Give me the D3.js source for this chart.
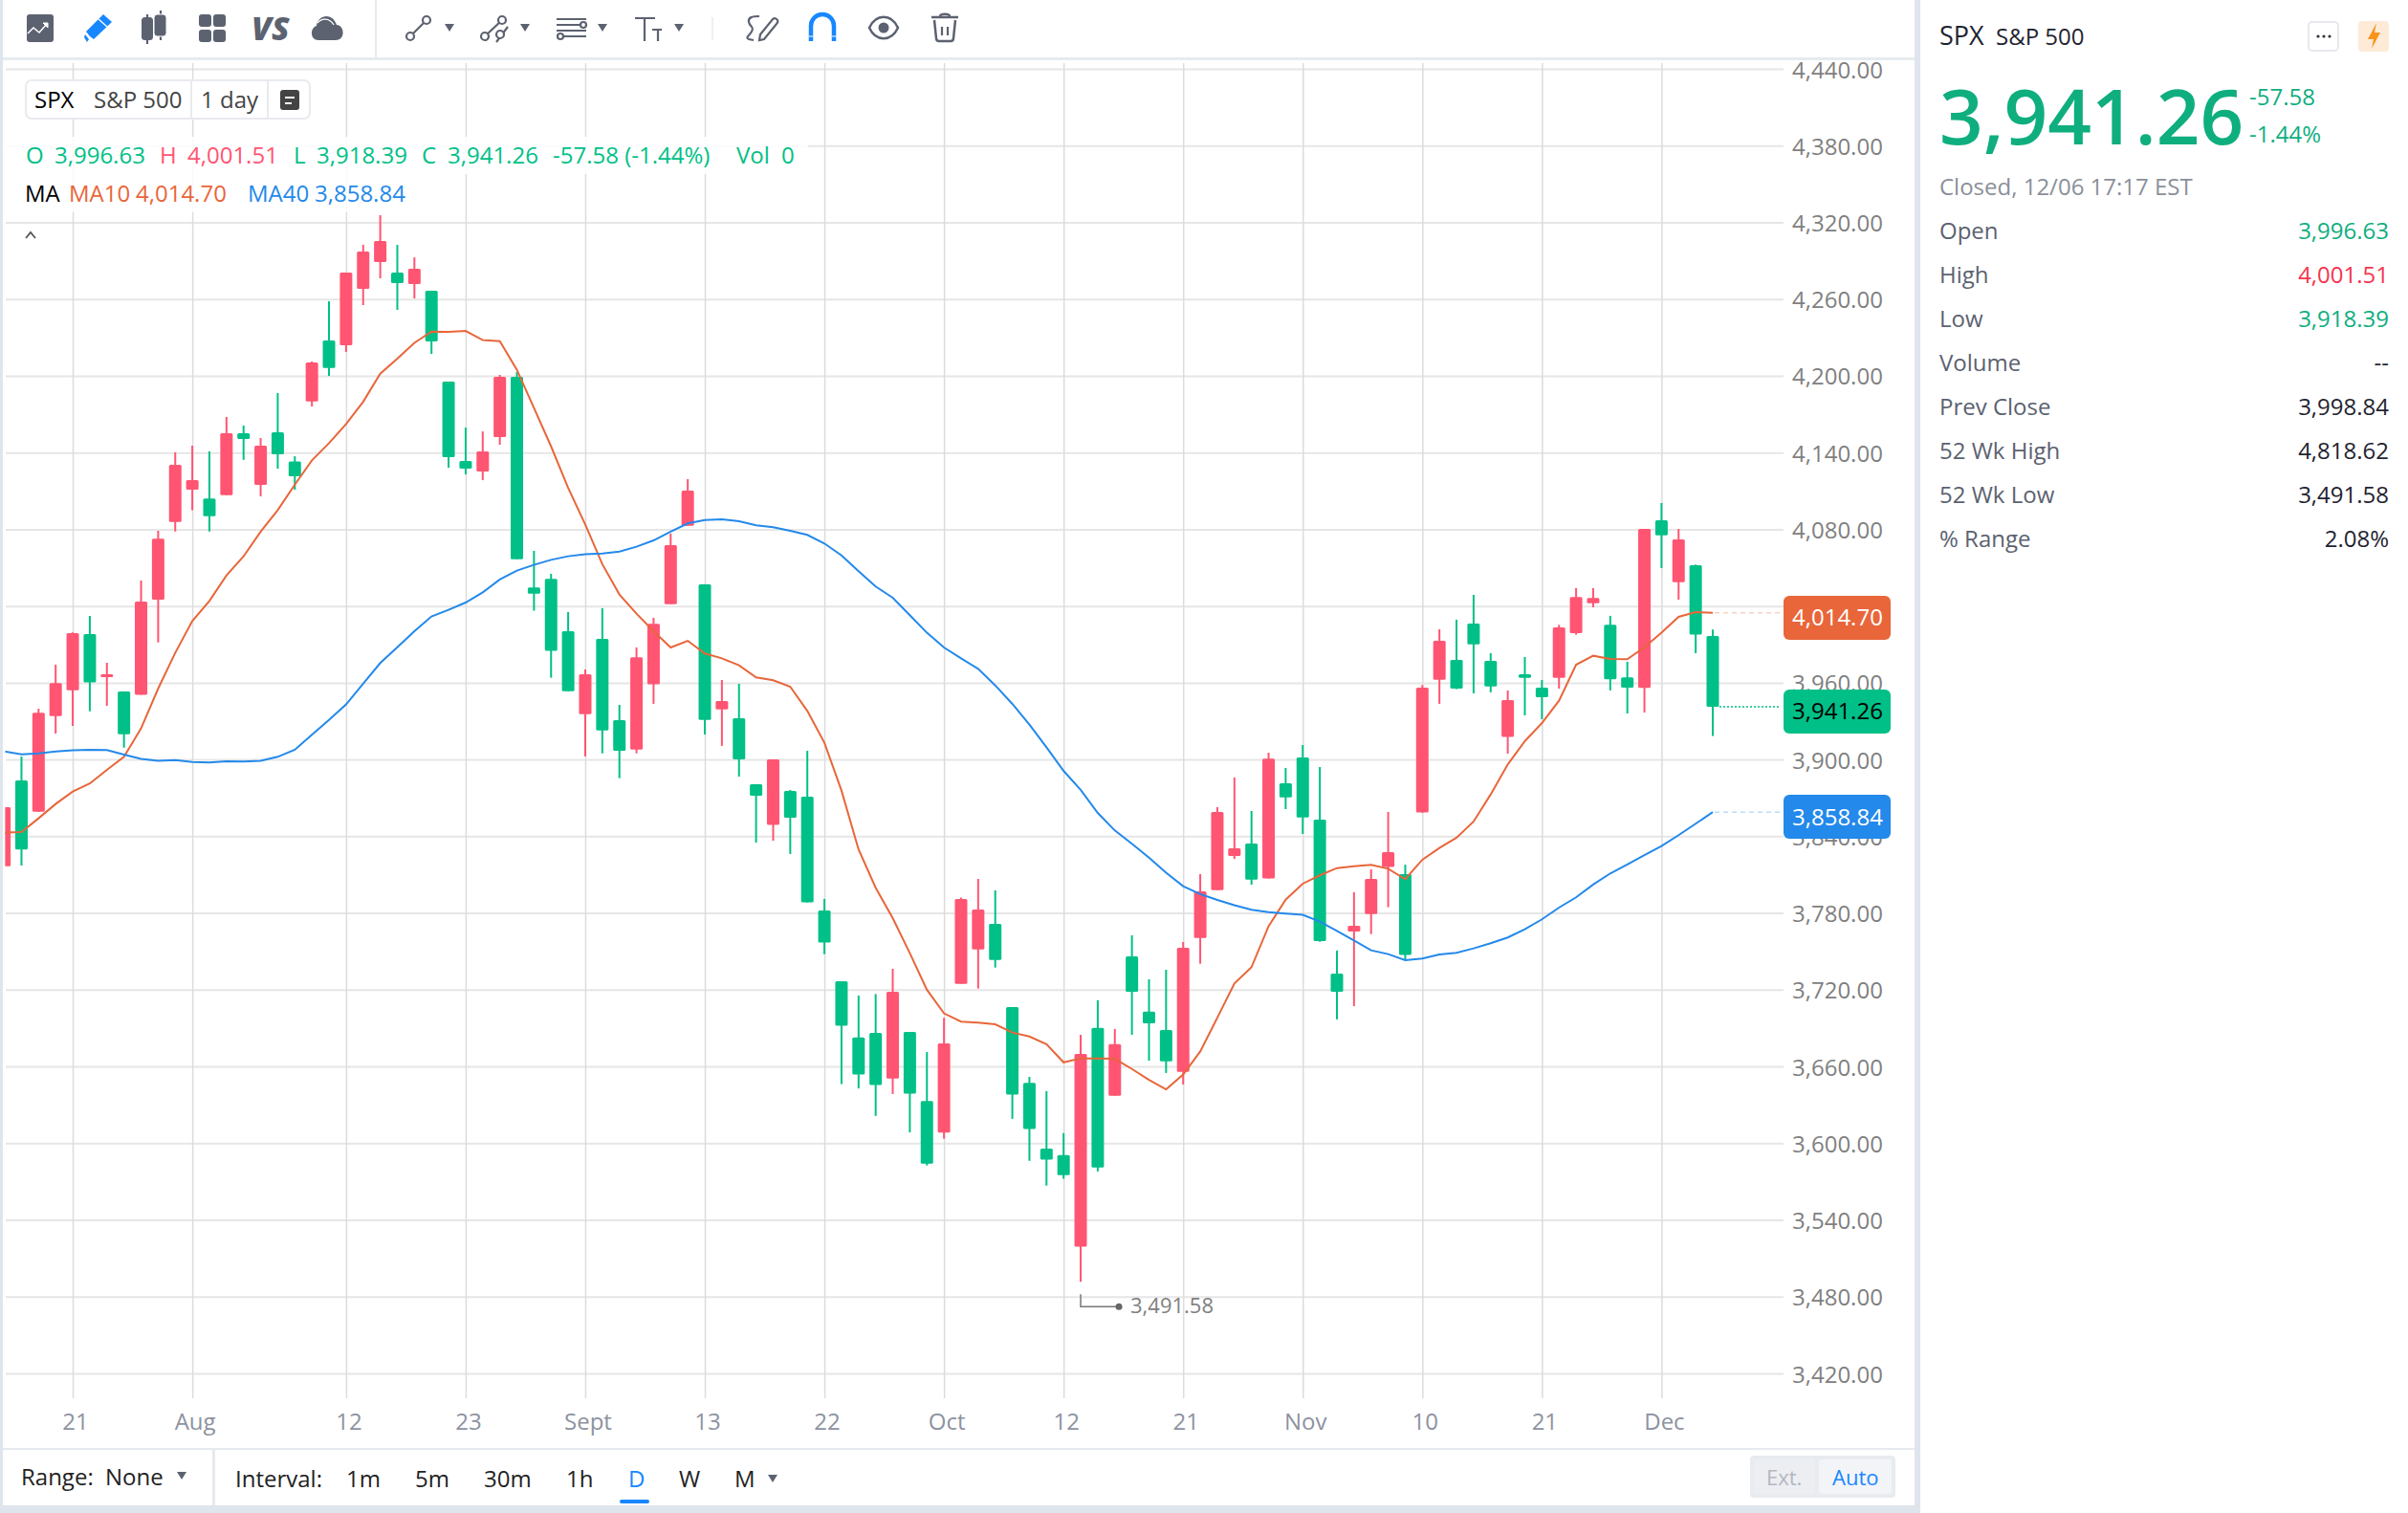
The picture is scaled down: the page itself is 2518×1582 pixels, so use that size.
<!DOCTYPE html>
<html>
<head>
<meta charset="utf-8">
<title>SPX</title>
<script src="https://cdn.jsdelivr.net/npm/d3@7"></script>
<style>
body { margin: 0; background: #fff; overflow: hidden; }
svg { display: block; }
text { font-family: "Open Sans", sans-serif; font-size: 24px; }
</style>
</head>
<body>
<svg></svg>
<script>
const openPrices = [
    3816.6,3883.7,3859.2,3934,3954.2,3998.1,3964.4,3953.2,3950.5,4025,
    4085.8,4110.9,4104,4106.7,4155.1,4114.7,4155.8,4133.1,4180,4227.6,
    4223.9,4268,4288.9,4280.7,4271.7,4266.5,4195.4,4133.4,4125.1,4152.1,
    4199.2,4034.5,4041.2,4000.3,3935.5,3994.3,3930.8,3907.8,3958.7,4021.5,
    4082.8,4037,3939.2,3932.3,3880.7,3848.8,3875.4,3870.9,3782,3726.6,
    3682.6,3686.2,3650.5,3687,3633,3608.2,3724.6,3751.5,3771.5,3706.4,
    3647.2,3595.7,3590.6,3519,3690.1,3637.1,3746.1,3702.8,3688.5,3655.7,
    3760.5,3797.9,3824.6,3834.3,3806.9,3881.4,3901.6,3853,3732.6,3765.5,
    3779.2,3815.9,3810.4,3858.5,3962.4,3977.9,4006.3,3977.1,3917.6,3966.7,
    3956.2,3963.9,3998.8,4022.2,4005.3,3964.2,3956,4087.1,4038.7,4051.9,3996.63
];
const highPrices = [
    3862.7,3902.4,3939.7,3974.1,3999.3,4012.3,3975.6,3953.2,4039.9,4078.8,
    4140.1,4145.3,4140.8,4167.8,4161,4151.3,4186.5,4137.1,4211.2,4258.3,
    4280.7,4302.4,4325.5,4302.4,4292.6,4266.5,4195.4,4159.5,4156.5,4200.7,
    4202.9,4063.1,4045.2,4015.3,3970.4,4018.3,3942.7,3987.6,4010.8,4076.6,
    4119.2,4037,3962.2,3959.2,3880.7,3900.1,3876.2,3906.8,3791,3726.6,
    3715.4,3716.6,3736.3,3687,3671.2,3698,3792,3806.6,3797.7,3706.4,
    3651.8,3640.7,3607.9,3684.7,3711.8,3689.3,3762.5,3728.1,3735.6,3757.3,
    3810.4,3862.7,3885.9,3859.7,3905.3,3893.4,3911.3,3894.1,3750.6,3796.2,
    3814.1,3859,3817.8,3958.2,4001.8,4009.3,4028.7,3983.1,3954,3980.1,
    3962.2,4005.3,4034,4034,4012.3,3976.4,4080.3,4100.5,4080.3,4052.4,4001.51
];
const lowPrices = [
    3816.6,3817.1,3859,3920.3,3926.3,3937.7,3942,3909.3,3950.5,3991.6,
    4078.3,4094.8,4078.3,4106.7,4134.4,4105.7,4127.4,4110.9,4176,4199.9,
    4218.6,4255.3,4276.2,4251.5,4260.5,4217.1,4128.1,4122.9,4118.4,4146.1,
    4056.6,4016.3,3963.9,3953.4,3902.4,3904.8,3885.4,3904.8,3943.5,4021.5,
    4082.8,3919.5,3910.6,3886.6,3835,3836.5,3826.1,3788.2,3747.8,3646.2,
    3642.8,3621.3,3638.4,3608.4,3582.6,3603.5,3724.6,3720.9,3737.3,3619,
    3586.2,3566.8,3572.2,3491.58,3577.9,3637.1,3684.7,3664.5,3654.9,3645.9,
    3740.3,3797.9,3822.3,3802.1,3806.9,3861.2,3841.8,3757.5,3696.8,3707.1,
    3763.5,3784.5,3743.6,3858.5,3943.5,3955,3951.7,3952.5,3904.6,3934.5,
    3931.5,3955.4,3997.6,4019,3954,3936,3936.7,4049.7,4025,3983.1,3918.39
];
const closePrices = [
    3862.7,3829.6,3936.5,3959.7,3998.8,3960.2,3966.7,3919.8,4023.5,4072.6,
    4130.4,4118.4,4090.3,4155.1,4150.6,4145.3,4138.6,4121.4,4210.4,4206.2,
    4280.7,4297.1,4305.4,4272.5,4283.7,4226.8,4136.4,4127.4,4140.8,4199.2,
    4056.6,4029.7,3984.9,3953.4,3966.7,3922.8,3906.8,3979.9,4006,4067.6,
    4110.2,3931,3945.7,3900.1,3871.7,3900.1,3854.5,3788.2,3756.8,3691.9,
    3653.6,3645.4,3718.4,3638.7,3583.9,3677.9,3791,3782.7,3743.3,3637.9,
    3611,3587.2,3575,3669.7,3581,3677.4,3718.4,3693.7,3664,3752.8,
    3796.9,3859,3830.6,3806.1,3900.6,3870.4,3854.7,3758,3718.4,3770,
    3806.6,3827.6,3747.1,3956.2,3992.8,3955.4,3990.1,3957.2,3946.5,3963.9,
    3948.7,4003.3,4027,4026.2,3962.7,3956.2,4080.3,4075.3,4072.1,3997.6,3941.26
];
const ma10 = [
    3842.8,3843.3,3854,3865.2,3874.9,3881.2,3891.9,3902.1,3924.3,3955.4,
    3983.4,4008.3,4024,4043.9,4058.9,4078.1,4095,4114.9,4133.9,4147.3,
    4162.3,4179.7,4201.7,4213.4,4225.8,4234.6,4234.4,4235.1,4227.9,4227.1,
    4204.7,4174.8,4144.8,4112.4,4083.8,4052.7,4029,4014,4000.3,3987.6,
    3992.8,3982.9,3979.1,3973.6,3964.2,3961.9,3956.9,3938,3913.1,3875.7,
    3829.6,3799.7,3776,3748.6,3719.9,3701.5,3695,3694.2,3692.9,3686.5,
    3683.4,3677.4,3663.2,3666.3,3666.3,3666,3658,3649.5,3642,3653.6,
    3671.7,3698.1,3724.9,3737.6,3769.7,3790.4,3802.9,3809.4,3815.1,3816.6,
    3817.6,3814.6,3806.4,3821.6,3830.8,3838.8,3851.5,3872.7,3896.1,3914.3,
    3928.5,3946,3974.1,3981.1,3978.6,3978.4,3987.8,3999.1,4011.5,4015.3,4014.7
];
const ma40 = [
    3906.3,3904.1,3904.8,3906.3,3907.1,3907.6,3907.3,3903.8,3900.4,3898.9,
    3899.6,3898.1,3897.6,3898.6,3898.4,3898.9,3902.1,3907.6,3919.3,3931,
    3943,3959.2,3975.4,3987.8,4000.3,4011.8,4017,4022.7,4030.7,4040.7,
    4047.7,4052.2,4056.1,4058.9,4060.4,4061.1,4062.6,4066.4,4071.3,4078.1,
    4084.6,4087.3,4087.8,4086.3,4083.1,4081.6,4078.8,4075.6,4068.9,4059.6,
    4047.2,4035.2,4026.5,4012.8,3999.1,3987.6,3979.1,3970.9,3957.9,3943.5,
    3927.3,3909.6,3891.1,3876.2,3858.2,3844.5,3834.1,3823.3,3811.4,3800.9,
    3794.7,3790.2,3786,3782.5,3780.7,3779.5,3778.5,3773.2,3766,3758.5,
    3750.8,3747.8,3743.1,3744.3,3747.6,3748.8,3752.3,3756.3,3760.8,3767.3,
    3775,3784.2,3792.2,3802.2,3810.9,3817.9,3825.3,3832.3,3840.8,3849.8,3858.84
];

const yTicks = [4440,4380,4320,4260,4200,4140,4080,4020,3960,3900,3840,3780,3720,3660,3600,3540,3480,3420];
const xTickIndex = [4,11,20,27,34,41,48,55,62,69,76,83,90,97];
const xTickLabels = ["21","Aug","12","23","Sept","13","22","Oct","12","21","Nov","10","21","Dec"];

const statLabels = ["Open","High","Low","Volume","Prev Close","52 Wk High","52 Wk Low","% Range"];
const statValues = ["3,996.63","4,001.51","3,918.39","--","3,998.84","4,818.62","3,491.58","2.08%"];
const statColors = ["#0fae7f","#f5354f","#0fae7f","#1f2430","#1f2430","#1f2430","#1f2430","#1f2430"];

const green = "#00c087";
const red = "#ff5572";
const orange = "#e8663a";
const blue = "#2389ea";
const iconGrey = "#5c6270";
const iconBlue = "#1787ff";

const width = 2518;
const height = 1582;

const svg = d3.select("svg").attr("width", width).attr("height", height);

const xScale = d3.scaleLinear().domain([0, 100]).range([4.6, 1791]);
const yScale = d3.scaleLinear().domain([3420, 4440]).range([1436, 72]);
const indices = d3.range(openPrices.length);

let addText = (parent, x, y, str, color, size, anchor, weight) => {
    return parent.append("text")
        .attr("x", x).attr("y", y)
        .attr("fill", color)
        .style("font-size", (size || 24) + "px")
        .style("font-weight", weight || 400)
        .attr("text-anchor", anchor || "start")
        .text(str);
}

let drawGrid = () => {
    svg.append("clipPath").attr("id", "plot-clip")
       .append("rect").attr("x", 5.5).attr("y", 62).attr("width", 1860).attr("height", 1400);

    let hGrid = svg.append("g")
       .attr("transform", "translate(1865,0)")
       .call(d3.axisLeft(yScale).tickValues(yTicks).tickSize(1859).tickFormat(""));
    hGrid.select(".domain").remove();
    hGrid.selectAll("line").attr("stroke", "#e6e6e6").attr("stroke-width", 2);

    let vGrid = svg.append("g")
       .attr("transform", "translate(0,1462)")
       .call(d3.axisTop(xScale).tickValues(xTickIndex).tickSize(1396).tickFormat(""));
    vGrid.select(".domain").remove();
    vGrid.selectAll("line").attr("stroke", "#dcdcdc").attr("stroke-width", 1.5);
}

let drawAxes = () => {
    let yAxis = svg.append("g")
       .attr("id", "y-axis")
       .attr("transform", "translate(1874,0)")
       .call(d3.axisRight(yScale).tickValues(yTicks).tickSize(0).tickPadding(0).tickFormat(d3.format(",.2f")));
    yAxis.select(".domain").remove();
    yAxis.selectAll("text")
       .attr("fill", "#808080")
       .attr("dy", 9)
       .style("font-size", "24px");

    let xAxis = svg.append("g")
       .attr("id", "x-axis")
       .attr("transform", "translate(0,1471)")
       .call(d3.axisBottom(xScale).tickValues(xTickIndex).tickSize(0).tickPadding(0)
           .tickFormat((d, i) => xTickLabels[i]));
    xAxis.select(".domain").remove();
    xAxis.selectAll("text")
       .attr("fill", "#8d92a0")
       .attr("x", 2.5)
       .attr("y", 23.5)
       .attr("dy", 0)
       .style("font-size", "24px");
}

let drawCandles = () => {
    let g = svg.append("g").attr("clip-path", "url(#plot-clip)");
    let color = (i) => closePrices[i] >= openPrices[i] ? red : green;

    g.selectAll(".wick")
     .data(indices)
     .enter()
     .append("line")
     .attr("class", "wick")
     .attr("x1", (i) => xScale(i))
     .attr("x2", (i) => xScale(i))
     .attr("y1", (i) => yScale(highPrices[i]))
     .attr("y2", (i) => yScale(lowPrices[i]))
     .attr("stroke", color)
     .attr("stroke-width", 2);

    g.selectAll(".body")
     .data(indices)
     .enter()
     .append("rect")
     .attr("class", "body")
     .attr("x", (i) => xScale(i) - 6.5)
     .attr("width", 13)
     .attr("y", (i) => yScale(Math.max(openPrices[i], closePrices[i])))
     .attr("height", (i) => Math.max(3, Math.abs(yScale(openPrices[i]) - yScale(closePrices[i]))))
     .attr("rx", 1.5)
     .attr("fill", color);
}

let drawMovingAverages = () => {
    let g = svg.append("g").attr("clip-path", "url(#plot-clip)");
    let lineFor = (series) => d3.line().x((i) => xScale(i)).y((i) => yScale(series[i]))(indices);

    g.append("path").attr("d", lineFor(ma10))
     .attr("fill", "none").attr("stroke", orange).attr("stroke-width", 2);
    g.append("path").attr("d", lineFor(ma40))
     .attr("fill", "none").attr("stroke", blue).attr("stroke-width", 2);
}

let drawPriceTags = () => {
    let tags = [
        { value: 4014.70, color: orange, text: "#fff", dash: "5,4", op: 0.3, top: 623, base: 654 },
        { value: 3941.26, color: green, text: "#000", dash: "2,2", op: 1, top: 721, base: 752 },
        { value: 3858.84, color: blue, text: "#fff", dash: "5,4", op: 0.3, top: 831, base: 863 }
    ];
    tags.forEach((t) => {
        svg.append("line")
           .attr("x1", xScale(100) + (t.value == 3941.26 ? 7 : 2)).attr("x2", 1862)
           .attr("y1", yScale(t.value)).attr("y2", yScale(t.value))
           .attr("stroke", t.color).attr("stroke-opacity", t.op)
           .attr("stroke-dasharray", t.dash).attr("stroke-width", 1.5);
        svg.append("rect")
           .attr("x", 1865).attr("y", t.top).attr("width", 112).attr("height", 46)
           .attr("rx", 6).attr("fill", t.color);
        addText(svg, 1874, t.base, d3.format(",.2f")(t.value), t.text);
    });
}

let drawLowMark = () => {
    let lowIndex = lowPrices.indexOf(d3.min(lowPrices));
    let lx = xScale(lowIndex);
    let ly = yScale(lowPrices[lowIndex]);
    svg.append("path")
       .attr("d", `M${lx},${ly + 13}V${ly + 26}H${lx + 40}`)
       .attr("fill", "none").attr("stroke", "#777").attr("stroke-width", 1.5);
    svg.append("circle").attr("cx", lx + 40).attr("cy", ly + 26).attr("r", 3.5).attr("fill", "#666");
    addText(svg, lx + 52, ly + 32.5, d3.format(",.2f")(lowPrices[lowIndex]), "#808080", 22);
}

let drawLegend = () => {
    // faded strips behind the two legend rows
    svg.append("rect").attr("x", 5).attr("y", 143).attr("width", 840).attr("height", 39).attr("fill", "#fff").attr("opacity", 0.85);
    svg.append("rect").attr("x", 5).attr("y", 182).attr("width", 430).attr("height", 40).attr("fill", "#fff").attr("opacity", 0.85);

    svg.append("rect").attr("x", 27).attr("y", 84).attr("width", 297).attr("height", 40)
       .attr("rx", 6).attr("fill", "#fff").attr("stroke", "#e8eaee").attr("stroke-width", 2);
    svg.append("line").attr("x1", 200).attr("x2", 200).attr("y1", 84).attr("y2", 124).attr("stroke", "#e8eaee").attr("stroke-width", 2);
    svg.append("line").attr("x1", 280).attr("x2", 280).attr("y1", 84).attr("y2", 124).attr("stroke", "#e8eaee").attr("stroke-width", 2);
    addText(svg, 36, 113, "SPX", "#000");
    addText(svg, 98, 113, "S&P 500", "#444");
    addText(svg, 210, 113, "1 day", "#444");
    svg.append("rect").attr("x", 293).attr("y", 94).attr("width", 20).attr("height", 21).attr("rx", 3).attr("fill", "#444");
    svg.append("path").attr("d", "M298,102H308M298,108H305").attr("stroke", "#fff").attr("stroke-width", 2);

    addText(svg, 27, 170.5, "O", green);
    addText(svg, 57, 170.5, "3,996.63", green);
    addText(svg, 167, 170.5, "H", red);
    addText(svg, 196, 170.5, "4,001.51", red);
    addText(svg, 307, 170.5, "L", green);
    addText(svg, 331, 170.5, "3,918.39", green);
    addText(svg, 441, 170.5, "C", green);
    addText(svg, 468, 170.5, "3,941.26", green);
    addText(svg, 578, 170.5, "-57.58 (-1.44%)", green);
    addText(svg, 770, 170.5, "Vol", green);
    addText(svg, 817, 170.5, "0", green);

    addText(svg, 26, 210.5, "MA", "#000");
    addText(svg, 72, 210.5, "MA10", orange);
    addText(svg, 142, 210.5, "4,014.70", orange);
    addText(svg, 259, 210.5, "MA40", blue);
    addText(svg, 329, 210.5, "3,858.84", blue);

    svg.append("path").attr("d", "M27,249L32,243L37,249").attr("fill", "none").attr("stroke", "#555").attr("stroke-width", 1.8);
}

let caret = (x, y) => {
    svg.append("path").attr("d", `M${x - 5},${y - 4}H${x + 5}L${x},${y + 4}Z`).attr("fill", iconGrey);
}

let drawToolbar = () => {
    let icon = (x, draw) => draw(svg.append("g").attr("transform", `translate(${x},29)`));
    let stroke = (g, d, color, w) => g.append("path").attr("d", d).attr("fill", "none").attr("stroke", color || iconGrey).attr("stroke-width", w || 2.5);
    let ring = (g, x, y, r) => g.append("circle").attr("cx", x).attr("cy", y).attr("r", r).attr("fill", "#fff").attr("stroke", iconGrey).attr("stroke-width", 2.2);

    icon(42, (g) => {
        g.append("rect").attr("x", -14).attr("y", -14).attr("width", 28).attr("height", 29).attr("rx", 3).attr("fill", iconGrey);
        stroke(g, "M-13,6L-7,0L-1,5L7,-4", "#fff", 1.5);
        g.append("path").attr("d", "M3,-5H8V0Z").attr("fill", "#fff").attr("stroke", "#fff").attr("stroke-width", 1);
    });
    icon(102, (g) => {
        g.append("path").attr("d", "M-12,4L6,-14L15,-6L-4,12L-8,9Z").attr("fill", iconBlue);
        g.append("path").attr("d", "M-14,10L-13,7L-9,12L-11,15Z").attr("fill", iconBlue);
        stroke(g, "M1,-9L10,-1", "#fff", 1.4);
    });
    icon(161, (g) => {
        stroke(g, "M-7,-14V17M7,-18V13", iconGrey, 2.2);
        g.append("rect").attr("x", -13).attr("y", -11).attr("width", 12).attr("height", 24).attr("rx", 3.5).attr("fill", iconGrey);
        g.append("rect").attr("x", 0).attr("y", -14).attr("width", 13).attr("height", 23).attr("rx", 3.5).attr("fill", iconGrey).attr("stroke", "#fff").attr("stroke-width", 1);
    });
    icon(222, (g) => {
        [[-14, -14], [1, -14], [-14, 2], [1, 2]].forEach((p) => {
            g.append("rect").attr("x", p[0]).attr("y", p[1]).attr("width", 13).attr("height", 13).attr("rx", 3).attr("fill", iconGrey);
        });
    });
    addText(svg, 263, 42, "VS", iconGrey, 34, "start", 800).style("font-style", "italic");
    icon(342, (g) => {
        g.append("path").attr("d", "M-9,13C-18,13 -18,0 -11,-2C-10,-13 5,-17 10,-3C18,-3 20,13 9,13Z").attr("fill", iconGrey);
        stroke(g, "M-10,-5C-5,-11 3,-10 7,-3", "#fff", 1.3);
    });

    svg.append("line").attr("x1", 393).attr("x2", 393).attr("y1", 0).attr("y2", 60).attr("stroke", "#dfe3e8").attr("stroke-width", 1.5);

    icon(438, (g) => {
        stroke(g, "M-9,9L8,-8", iconGrey, 2.2);
        ring(g, -9, 9, 4);
        ring(g, 8, -8, 4);
    });
    caret(470, 29);
    icon(517, (g) => {
        stroke(g, "M-10,9L8,-8M2,15L14,-1", iconGrey, 2.2);
        ring(g, 8, -8, 4);
        ring(g, 6, 7, 4);
        ring(g, -10, 9, 4);
    });
    caret(549, 29);
    icon(598, (g) => {
        stroke(g, "M-16,-9H15M-16,-3H15M-16,3H15M-16,9H15", iconGrey, 2.2);
        ring(g, 12, -3, 3);
        ring(g, -12, 9, 3);
    });
    caret(630, 29);
    icon(676, (g) => {
        stroke(g, "M-12,-10H9M-2,-10V14M6,2H16M12,2V14", iconGrey, 2.2);
    });
    caret(710, 29);
    svg.append("line").attr("x1", 745).attr("x2", 745).attr("y1", 18).attr("y2", 42).attr("stroke", "#e8eaee").attr("stroke-width", 1.5);
    icon(797, (g) => {
        stroke(g, "M-3,13L-2,7L11,-9Q14,-11 16,-8Q17,-6 15,-4L2,12Z", iconGrey, 2.2);
        stroke(g, "M-3,-12C-10,-12 -15,-11 -14,-6C-13,-1 -8,-1 -11,4C-14,9 -18,10 -14,12L-9,13", iconGrey, 2.2);
    });
    icon(860, (g) => {
        stroke(g, "M-12,14V-2A12,12 0 0 1 12,-2V14", iconBlue, 4.5);
        stroke(g, "M-14.5,9H-9.5M9.5,9H14.5", "#fff", 1.2);
    });
    icon(924, (g) => {
        g.append("path").attr("d", "M-15,0C-8,-15 8,-15 15,0C8,15 -8,15 -15,0Z").attr("fill", "#fff").attr("stroke", iconGrey).attr("stroke-width", 2.5);
        g.append("circle").attr("r", 5.5).attr("fill", iconGrey);
    });
    icon(988, (g) => {
        stroke(g, "M-14,-11H14M-5,-12C-5,-15 5,-15 5,-12M-11,-8L-9,11Q-9,14 -6,14H6Q9,14 9,11L11,-8", iconGrey, 2.5);
        stroke(g, "M-3,-1V8M3,-1V8", iconGrey, 2.2);
    });
}

let drawBottomBar = () => {
    addText(svg, 22, 1553, "Range:", "#222");
    addText(svg, 110, 1553, "None", "#222");
    caret(190, 1543);
    addText(svg, 246, 1555, "Interval:", "#222");
    addText(svg, 362, 1555, "1m", "#222");
    addText(svg, 434, 1555, "5m", "#222");
    addText(svg, 506, 1555, "30m", "#222");
    addText(svg, 592, 1555, "1h", "#222");
    addText(svg, 657, 1555, "D", iconBlue);
    addText(svg, 710, 1555, "W", "#222");
    addText(svg, 768, 1555, "M", "#222");
    caret(808, 1546);
    svg.append("rect").attr("x", 648).attr("y", 1568).attr("width", 31).attr("height", 4).attr("rx", 2).attr("fill", iconBlue);

    svg.append("rect").attr("x", 1830).attr("y", 1522).attr("width", 152).attr("height", 44).attr("rx", 4).attr("fill", "#e8ebf0");
    svg.append("rect").attr("x", 1834).attr("y", 1526).attr("width", 64).attr("height", 36).attr("rx", 3).attr("fill", "#eceef2");
    svg.append("rect").attr("x", 1902).attr("y", 1526).attr("width", 76).attr("height", 36).attr("rx", 3).attr("fill", "#f2f4f8");
    addText(svg, 1847, 1553, "Ext.", "#b3b7c0", 22);
    addText(svg, 1916, 1553, "Auto", iconBlue, 22);
}

let drawFrame = () => {
    // panel separators
    svg.append("rect").attr("x", 0).attr("y", 0).attr("width", 3).attr("height", height).attr("fill", "#dfe5ec");
    svg.append("rect").attr("x", 3).attr("y", 60).attr("width", 2000).attr("height", 3).attr("fill", "#e6ebef");
    svg.append("rect").attr("x", 3).attr("y", 1514).attr("width", 2000).attr("height", 2).attr("fill", "#e6e9ee");
    svg.append("rect").attr("x", 222).attr("y", 1515).attr("width", 3).attr("height", 60).attr("fill", "#e6e9ee");
    svg.append("rect").attr("x", 0).attr("y", 1574).attr("width", 2008).attr("height", 8).attr("fill", "#dfe5ec");
    svg.append("rect").attr("x", 2002).attr("y", 0).attr("width", 6).attr("height", height).attr("fill", "#dfe5ec");
}

let drawSidePanel = () => {
    addText(svg, 2028, 47, "SPX", "#1f2430", 27);
    addText(svg, 2087, 47, "S&P 500", "#1f2430", 24);

    svg.append("rect").attr("x", 2414).attr("y", 23).attr("width", 31).attr("height", 30).attr("rx", 4)
       .attr("fill", "#fff").attr("stroke", "#e6e9ee").attr("stroke-width", 2);
    svg.selectAll(".more-dot")
       .data([2424, 2430, 2436])
       .enter()
       .append("circle")
       .attr("class", "more-dot")
       .attr("cx", (d) => d).attr("cy", 38).attr("r", 1.6).attr("fill", "#333");
    svg.append("rect").attr("x", 2466).attr("y", 22).attr("width", 32).attr("height", 32).attr("rx", 4).attr("fill", "#fdebd8");
    svg.append("path").attr("d", "M2485,24L2476,41H2482L2480,51L2489,34H2483Z").attr("fill", "#f7941d");

    addText(svg, 2028, 151, "3,941.26", "#0fae7f", 80, "start", 600);
    addText(svg, 2352, 110, "-57.58", "#0fae7f", 24);
    addText(svg, 2352, 149, "-1.44%", "#0fae7f", 24);
    addText(svg, 2028, 204, "Closed, 12/06 17:17 EST", "#8a8f99", 24);

    statLabels.forEach((label, i) => {
        let base = 250 + i * 46;
        addText(svg, 2028, base, label, "#5b6270", 24);
        addText(svg, 2498, base, statValues[i], statColors[i], 24, "end");
    });
}

drawGrid();
drawAxes();
drawCandles();
drawMovingAverages();
drawLowMark();
drawLegend();
drawPriceTags();
drawToolbar();
drawFrame();
drawBottomBar();
drawSidePanel();
</script>
</body>
</html>
